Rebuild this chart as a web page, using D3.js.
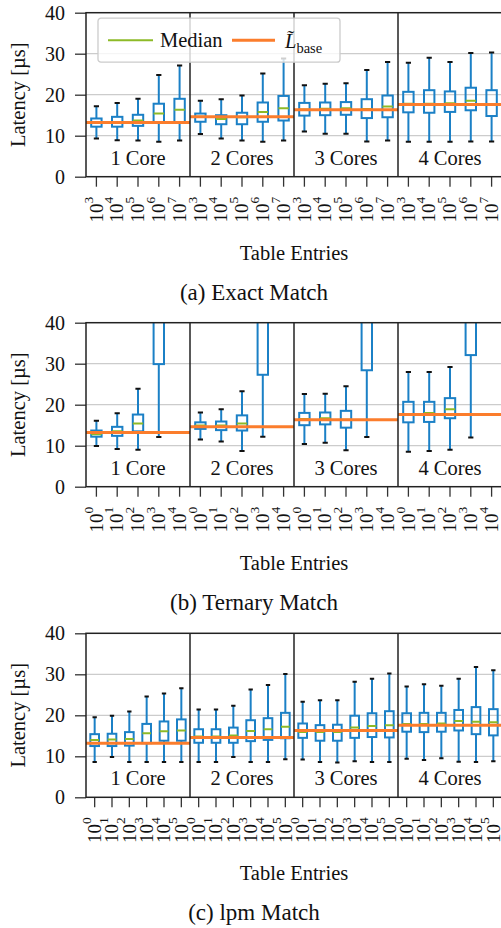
<!DOCTYPE html>
<html>
<head>
<meta charset="utf-8">
<script src="https://cdnjs.cloudflare.com/ajax/libs/d3/7.8.5/d3.min.js"></script>
<style>
    body { margin: 0; background: #fff; }
    svg, svg text { font-family: 'Liberation Serif', 'DejaVu Serif', serif !important; }
</style>
</head>
<body>
<svg id="chart" width="501" height="928"></svg>
<script>
var groups = ['1 Core', '2 Cores', '3 Cores', '4 Cores'];
var baseline = [13.2, 14.6, 16.3, 17.6];
var yTicks = [0, 10, 20, 30, 40];

// (a) exact match, exponents 10^3 .. 10^7
var exactExp = ['3', '4', '5', '6', '7'];
var exactLo  = [9.3, 8.9, 8.8, 8.5, 8.8,   10.4, 9.3, 8.8, 8.5, 8.8,   11.0, 10.5, 10.5, 8.6, 8.8,   8.5, 8.5, 8.5, 8.6, 8.6];
var exactQ1  = [12.2, 12.2, 12.4, 13.1, 13.2,   13.4, 12.8, 12.8, 13.4, 13.7,   14.9, 15.0, 15.1, 14.3, 14.5,   15.7, 15.6, 15.8, 16.2, 14.8];
var exactMed = [13.2, 13.2, 13.7, 15.4, 16.3,   14.6, 14.1, 14.5, 15.8, 16.7,   16.4, 16.6, 16.7, 16.5, 17.1,   17.8, 17.8, 17.9, 18.5, 17.6];
var exactQ3  = [14.2, 14.6, 15.1, 17.8, 19.0,   15.4, 15.0, 15.6, 18.1, 19.7,   18.0, 18.1, 18.2, 18.9, 19.8,   20.7, 21.1, 20.8, 21.7, 21.1];
var exactHi  = [17.2, 18.0, 19.0, 24.8, 27.1,   18.5, 18.9, 19.8, 25.2, 28.8,   22.3, 22.7, 22.8, 26.0, 28.0,   27.8, 29.0, 28.0, 30.2, 30.3];

// (b) ternary match, 10^0 .. 10^4 (10^3 and 10^4 run off the top)
var ternExp = ['0', '1', '2', '3', '4'];
var ternLo  = [9.9, 9.2, 9.0, 12.1, 45,   11.5, 11.0, 8.7, 12.2, 45,   10.4, 10.7, 8.9, 12.1, 45,   8.5, 8.7, 9.0, 12.0, 45];
var ternQ1  = [12.2, 12.4, 13.5, 29.9, 60,   14.1, 13.8, 13.7, 27.3, 60,   15.0, 15.2, 14.4, 28.4, 60,   15.7, 15.8, 16.7, 32.1, 60];
var ternMed = [12.8, 13.5, 15.4, 48, 70,   14.9, 14.9, 15.4, 48, 70,   16.5, 16.7, 16.3, 48, 70,   17.7, 18.0, 18.9, 50, 70];
var ternQ3  = [13.7, 14.6, 17.6, 65, 85,   15.7, 15.9, 17.4, 65, 85,   18.0, 18.1, 18.5, 65, 85,   20.7, 20.7, 21.6, 68, 85];
var ternHi  = [16.1, 17.9, 23.9, 95, 120,   18.1, 18.9, 23.3, 95, 120,   22.6, 22.7, 24.5, 95, 120,   28.0, 28.0, 29.2, 98, 120];

// (c) lpm match, 10^0 .. 10^5
var lpmExp = ['0', '1', '2', '3', '4', '5'];
var lpmLo  = [8.6, 9.8, 8.6, 8.6, 8.6, 8.6,   8.6, 8.6, 9.8, 8.6, 8.6, 9.3,   9.2, 8.6, 8.5, 8.8, 8.6, 8.6,   9.4, 9.1, 9.5, 8.7, 8.6, 8.8];
var lpmQ1  = [12.5, 12.5, 12.6, 13.2, 13.8, 13.8,   13.3, 13.3, 13.3, 13.7, 14.0, 14.4,   14.5, 13.8, 13.8, 14.5, 14.7, 14.6,   16.0, 15.9, 16.0, 16.3, 15.4, 15.1];
var lpmMed = [14.0, 14.1, 14.2, 15.6, 16.1, 16.3,   14.8, 14.8, 15.1, 16.2, 16.6, 17.2,   15.9, 15.9, 15.9, 17.0, 17.4, 17.6,   17.9, 17.9, 18.0, 18.6, 18.4, 18.3];
var lpmQ3  = [15.4, 15.5, 15.9, 17.9, 18.5, 19.0,   16.6, 16.6, 17.0, 18.8, 19.3, 20.6,   18.0, 17.6, 17.7, 19.9, 20.5, 21.0,   20.5, 20.6, 20.6, 21.3, 22.0, 21.5];
var lpmHi  = [19.5, 19.9, 20.9, 24.6, 25.3, 26.6,   21.4, 21.4, 22.3, 26.3, 27.4, 30.1,   23.3, 23.7, 23.7, 28.2, 28.9, 30.2,   27.0, 27.6, 27.2, 28.9, 31.8, 31.0];

var col = {
    box: '#1b80c6',
    median: '#8dba27',
    base: '#fb7d2c',
    grid: '#cccccc',
    frame: '#222222',
    tick: '#333333'
};

var serif = "'Liberation Serif', 'DejaVu Serif', serif";
var left = 86, right = 502, plotH = 164;
var svg = d3.select('#chart').attr('font-family', serif);

function drawPanel(id, top, exps, lo, q1, med, q3, hi, caption, withLegend) {
    var n = exps.length;
    var g = svg.append('g').attr('transform', 'translate(0,' + top + ')');

    var x = d3.scaleBand().domain(d3.range(n * groups.length)).range([left, right]).padding(0);
    var xg = d3.scaleBand().domain(groups).range([left, right]).padding(0);
    var y = d3.scaleLinear().domain([0, 40]).range([plotH, 0]);
    var bw = x.bandwidth();

    g.append('clipPath').attr('id', 'clip' + id)
        .append('rect').attr('x', left).attr('y', 0).attr('width', right - left).attr('height', plotH);

    // grid
    g.append('g').selectAll('line').data(yTicks.slice(1, -1)).join('line')
        .attr('x1', left).attr('x2', right)
        .attr('y1', function (d) { return y(d); }).attr('y2', function (d) { return y(d); })
        .attr('stroke', col.grid).attr('stroke-width', 1.3);

    // y axis
    var yAxis = g.append('g').attr('transform', 'translate(' + left + ',0)')
        .call(d3.axisLeft(y).tickValues(yTicks).tickSize(11).tickPadding(10))
        .attr('font-family', serif);
    yAxis.select('.domain').remove();
    yAxis.selectAll('.tick line').attr('stroke', col.tick).attr('stroke-width', 1.3);
    yAxis.selectAll('.tick text').attr('font-size', 20).attr('fill', '#111');

    // x ticks + labels
    var xAxis = g.append('g').attr('transform', 'translate(0,' + plotH + ')');
    var ticks = xAxis.selectAll('g').data(d3.range(n * groups.length)).join('g')
        .attr('transform', function (d) { return 'translate(' + (x(d) + bw / 2) + ',0)'; });
    ticks.append('line').attr('y1', 0).attr('y2', 10).attr('stroke', col.tick).attr('stroke-width', 1.3);
    var lbl = ticks.append('text')
        .attr('transform', 'translate(0,20) rotate(-90)')
        .attr('text-anchor', 'end').attr('dy', '0.33em')
        .attr('font-size', 19).attr('fill', '#111');
    lbl.append('tspan').text('10');
    lbl.append('tspan').attr('font-size', 13.5).attr('dy', '-0.75em')
        .text(function (d) { return exps[d % n]; });

    // boxes
    var data = d3.range(n * groups.length).map(function (i) {
        return {i: i, lo: lo[i], q1: q1[i], med: med[i], q3: q3[i], hi: hi[i]};
    });
    var boxes = g.append('g').attr('clip-path', 'url(#clip' + id + ')');
    var b = boxes.selectAll('g').data(data).join('g')
        .attr('transform', function (d) { return 'translate(' + (x(d.i) + bw / 2) + ',0)'; });
    b.append('line').attr('y1', function (d) { return y(d.lo); }).attr('y2', function (d) { return y(d.q1); })
        .attr('stroke', col.box).attr('stroke-width', 2);
    b.append('line').attr('y1', function (d) { return y(d.q3); }).attr('y2', function (d) { return y(d.hi); })
        .attr('stroke', col.box).attr('stroke-width', 2);
    b.append('rect')
        .attr('x', -bw / 4).attr('width', bw / 2)
        .attr('y', function (d) { return y(d.q3); })
        .attr('height', function (d) { return y(d.q1) - y(d.q3); })
        .attr('fill', 'none').attr('stroke', col.box).attr('stroke-width', 2);
    b.selectAll('line.cap').data(function (d) { return [d.lo, d.hi]; }).join('line')
        .attr('class', 'cap')
        .attr('x1', -bw / 8).attr('x2', bw / 8)
        .attr('y1', function (v) { return y(v); }).attr('y2', function (v) { return y(v); })
        .attr('stroke', '#111').attr('stroke-width', 2);

    // baseline per group
    boxes.selectAll('line.base').data(baseline).join('line').attr('class', 'base')
        .attr('x1', function (d, k) { return xg(groups[k]); })
        .attr('x2', function (d, k) { return xg(groups[k]) + xg.bandwidth(); })
        .attr('y1', function (d) { return y(d); }).attr('y2', function (d) { return y(d); })
        .attr('stroke', col.base).attr('stroke-width', 3);

    b.append('line')
        .attr('x1', -bw / 4).attr('x2', bw / 4)
        .attr('y1', function (d) { return y(d.med); }).attr('y2', function (d) { return y(d.med); })
        .attr('stroke', col.median).attr('stroke-width', 2);

    // frame + group separators
    g.append('rect').attr('x', left).attr('y', 0).attr('width', right - left).attr('height', plotH)
        .attr('fill', 'none').attr('stroke', col.frame).attr('stroke-width', 1.5);
    g.selectAll('line.sep').data(groups.slice(1)).join('line').attr('class', 'sep')
        .attr('x1', function (d) { return xg(d); }).attr('x2', function (d) { return xg(d); })
        .attr('y1', 0).attr('y2', plotH)
        .attr('stroke', col.frame).attr('stroke-width', 1.5);

    // group names
    g.selectAll('text.grp').data(groups).join('text').attr('class', 'grp')
        .attr('x', function (d) { return xg(d) + xg.bandwidth() / 2; })
        .attr('y', 152).attr('text-anchor', 'middle')
        .attr('font-size', 20.5).attr('fill', '#111')
        .text(function (d) { return d; });

    // axis titles
    g.append('text').attr('transform', 'translate(25,' + (plotH / 2) + ') rotate(-90)')
        .attr('text-anchor', 'middle').attr('font-size', 20.5).attr('fill', '#111')
        .text('Latency [\u00b5s]');
    g.append('text').attr('x', (left + right) / 2).attr('y', 247)
        .attr('text-anchor', 'middle').attr('font-size', 20.5).attr('fill', '#111')
        .text('Table Entries');
    g.append('text').attr('x', 254).attr('y', 287)
        .attr('text-anchor', 'middle').attr('font-size', 23).attr('fill', '#111')
        .text(caption);

    if (withLegend) {
        var lg = g.append('g').attr('transform', 'translate(98,5.5)');
        lg.append('rect').attr('width', 242).attr('height', 44).attr('rx', 3)
            .attr('fill', '#fff').attr('fill-opacity', 0.8)
            .attr('stroke', '#cccccc').attr('stroke-width', 1.3);
        lg.append('line').attr('x1', 10).attr('x2', 55).attr('y1', 22).attr('y2', 22)
            .attr('stroke', col.median).attr('stroke-width', 2);
        lg.append('text').attr('x', 62).attr('y', 29).attr('font-size', 20.5).attr('fill', '#111').text('Median');
        lg.append('line').attr('x1', 134).attr('x2', 177).attr('y1', 22).attr('y2', 22)
            .attr('stroke', col.base).attr('stroke-width', 3);
        var t = lg.append('text').attr('x', 187).attr('y', 30).attr('font-size', 20.5).attr('fill', '#111');
        t.append('tspan').attr('font-style', 'italic').text('L\u0303');
        t.append('tspan').attr('font-size', 14.5).attr('dy', 5).text('base');
    }
}

drawPanel('a', 12.7, exactExp, exactLo, exactQ1, exactMed, exactQ3, exactHi, '(a) Exact Match', true);
drawPanel('b', 322.7, ternExp, ternLo, ternQ1, ternMed, ternQ3, ternHi, '(b) Ternary Match', false);
drawPanel('c', 633.3, lpmExp, lpmLo, lpmQ1, lpmMed, lpmQ3, lpmHi, '(c) lpm Match', false);
</script>
</body>
</html>
